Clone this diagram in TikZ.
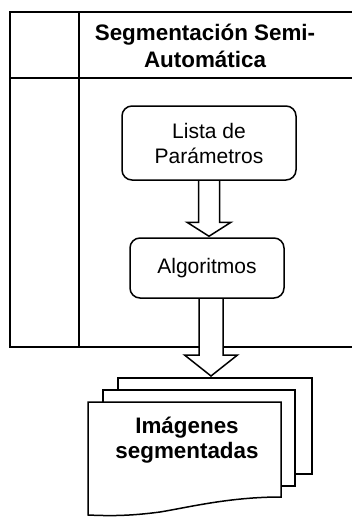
\documentclass[tikz,border=0pt]{standalone}
\usepackage{fontspec}
\setmainfont{Liberation Sans}
\usetikzlibrary{calc,backgrounds}
\begin{document}
\begin{tikzpicture}[x=1pt,y=-1pt,
  frameline/.style={line width=1.6pt},
  procbox/.style={draw,fill=white,line width=1.5pt,rounded corners=10pt,align=center,inner sep=0pt,font=\fontsize{21}{25}\selectfont},
  blockarrow/.style={draw,fill=white,line width=1.5pt,line join=miter},
  docshape/.style={draw,fill=white,line width=1.5pt},
  boldtext/.style={align=center,inner sep=0pt,font=\fontsize{22.4}{27}\selectfont\bfseries}
]
\useasboundingbox (0,0) rectangle (352,517);

% nodes
\node[procbox,minimum width=174pt,minimum height=74pt] (lista) at (209,143) {Lista de\\Parámetros};
\node[procbox,minimum width=154pt,minimum height=60pt] (algo) at (207,268) {Algoritmos};
\node[boldtext] (title) at (205,46) {Segmentación Semi-\\Automática};
\coordinate (stack) at (211,378);

\begin{scope}[on background layer]
  % swimlane frame
  \draw[frameline] (356,12) -- (10,12) -- (10,347) -- (356,347);
  \draw[frameline] (10,78) -- (356,78);
  \draw[frameline] (79,12) -- (79,347);
  % arrow lista -> algoritmos
  \draw[blockarrow] ($(lista.south)+(-10.5,0)$) -- ($(lista.south |- algo.north)+(-10.5,-15)$)
    -- ++(-11.5,0) -- ($(lista.south |- algo.north)+(0,-1)$)
    -- ($(lista.south |- algo.north)+(22,-15)$) -- ++(-11.5,0) -- ($(lista.south)+(10.5,0)$);
  % arrow algoritmos -> documents
  \draw[blockarrow] ($(algo.south -| stack)+(-12,0)$) -- ($(stack)+(-12,-23)$)
    -- ++(-14.5,0) -- ($(stack)+(0,-2)$)
    -- ($(stack)+(26.5,-23)$) -- ++(-14.5,0) -- ($(algo.south -| stack)+(12,0)$);
\end{scope}

% document stack
\draw[docshape] (118,378) rectangle (312,474);
\draw[docshape] (103,390) rectangle (295,486);
\draw[docshape] (88,402) -- (281,402) -- (281,497)
  .. controls (230,497) and (190,507) .. (160,512)
  .. controls (130,516) and (110,516) .. (88,515) -- cycle;
\node[boldtext,font=\fontsize{22.4}{25}\selectfont\bfseries] (docs) at (187,440) {Imágenes\\segmentadas};
\end{tikzpicture}
\end{document}
